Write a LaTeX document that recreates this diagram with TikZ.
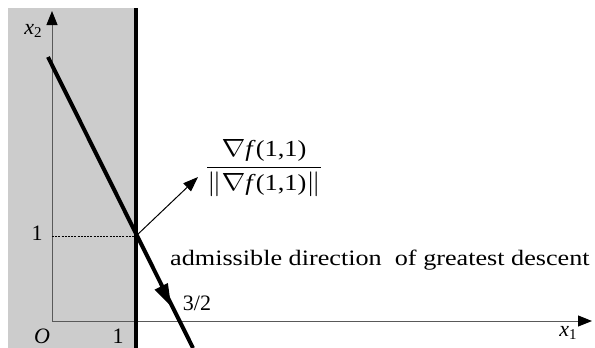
\documentclass[tikz,border=0pt]{standalone}
\usepackage{fontspec}
\setmainfont{Liberation Serif}
\usetikzlibrary{arrows.meta}
\begin{document}
\begin{tikzpicture}[x=1pt,y=-1pt,
  lbl/.style={inner sep=0pt,font=\fontsize{22}{25}\selectfont},
  axis/.style={draw=black!65,line width=1pt,-{Triangle[length=14pt,width=11pt,fill=black,color=black]}},
  thick line/.style={line width=4pt}]
\useasboundingbox (0,0) rectangle (595,348);
\fill[black!20] (8,8) rectangle (136,348);
\coordinate (O) at (52,321);
\coordinate (P) at (136,236);
\coordinate (Y) at (52,11);
\coordinate (X) at (592,321);
\coordinate (Ltop) at (48,57);
\coordinate (Lbot) at (193,348);
\coordinate (Vtop) at (136,8);
\coordinate (Vbot) at (136,348);
\coordinate (Yone) at (52,236);
\coordinate (G) at (198,177);
\coordinate (Amid) at (171,306);
\draw[axis] (O) -- (Y);
\draw[axis] (O) -- (X);
\draw[thick line] (Vtop) -- (Vbot);
\draw[thick line] (Ltop) -- (Lbot);
\draw[line width=0pt,-{Triangle[length=22pt,width=15pt]}] (P) -- (Amid);
\draw[dash pattern=on 2pt off 1.2pt,line width=0.7pt] (Yone) -- (P);
\draw[line width=1pt,-{Triangle[length=15pt,width=11pt]}] (P) -- (G);
\node[lbl] (lx2) at (33,31) {\textit{x}\raisebox{-0.35ex}{\fontsize{15}{15}\selectfont 2}};
\node[lbl] (lx1) at (568,333) {\textit{x}\raisebox{-0.35ex}{\fontsize{15}{15}\selectfont 1}};
\node[lbl] (lO) at (42,336) {\textit{O}};
\node[lbl] (l1x) at (118,336) {1};
\node[lbl] (l1y) at (37,233) {1};
\node[lbl] (l32) at (197,303) {3/2};
\node[lbl,font=\fontsize{23}{26}\selectfont] (frac) at (264,168) {\scalebox{1.15}[1]{$\displaystyle\frac{\nabla\mbox{\textit{f}(1,1)}}{\|\nabla\mbox{\textit{f}(1,1)}\|}$}};
\node[lbl,anchor=base west] (txt) at (170,265) {\scalebox{1.19}[1]{admissible direction\ \ of greatest descent}};
\end{tikzpicture}
\end{document}
